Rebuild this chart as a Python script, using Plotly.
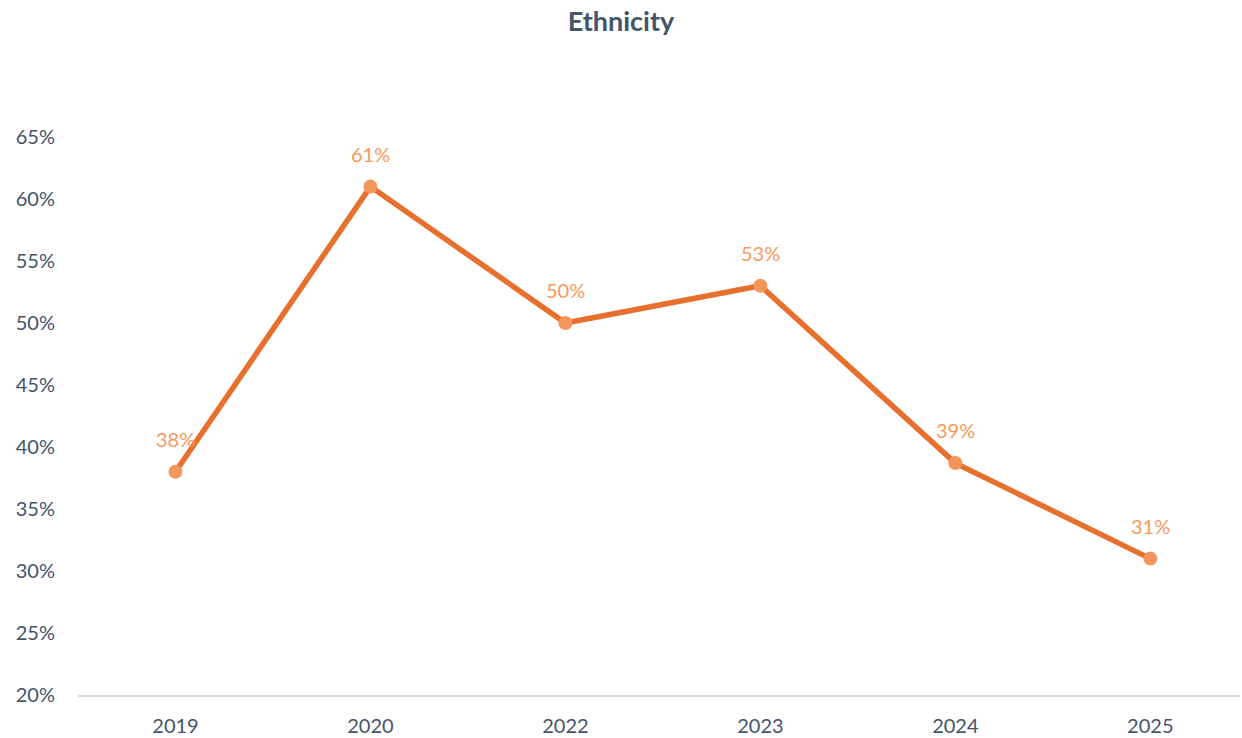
import plotly.graph_objects as go

years = ["2019", "2020", "2022", "2023", "2024", "2025"]
values = [0.38, 0.61, 0.50, 0.53, 0.387, 0.31]
title = "Ethnicity"

font_family = "Lato, Noto Sans, sans-serif"
text_color = "#44546A"
line_color = "#E8702F"
marker_color = "#F4955B"
label_color = "#F79A5B"

fig = go.Figure()
fig.add_trace(go.Scatter(
    x=years, y=values, mode="lines+markers",
    line=dict(color=line_color, width=5.5),
    marker=dict(color=marker_color, size=14),
    hoverinfo="skip", showlegend=False,
))
for i, v in enumerate(values):
    fig.add_annotation(x=i, y=v, xref="x", yref="y", text=f"{round(v*100):.0f}%", showarrow=False,
                       yshift=33, font=dict(color=label_color, size=20, family=font_family))

fig.update_layout(
    width=1242, height=738,
    paper_bgcolor="white", plot_bgcolor="white",
    margin=dict(l=78, r=2, t=137, b=43, autoexpand=False),
    title=dict(text=f"<b>{title}</b>", x=0.5, xanchor="center", y=1 - 22/738, yanchor="middle",
               font=dict(size=27, color=text_color, family=font_family)),
    font=dict(family=font_family, color=text_color, size=20),
    xaxis=dict(type="category", showgrid=False, showline=True, linecolor="#D9D9D9", linewidth=1.5,
               ticks="", ticklabelstandoff=12, tickfont=dict(size=20, color=text_color),
               range=[-0.5, 5.46], zeroline=False, automargin=False),
    yaxis=dict(range=[0.2, 0.65], dtick=0.05, tickformat=".0%", showgrid=False, showline=False,
               zeroline=False, ticks="", ticklabelstandoff=22, automargin=False,
               tickfont=dict(size=20, color=text_color)),
)
fig.write_html("out.html", config={"displayModeBar": False},
               post_script="document.body.style.margin='0';")
